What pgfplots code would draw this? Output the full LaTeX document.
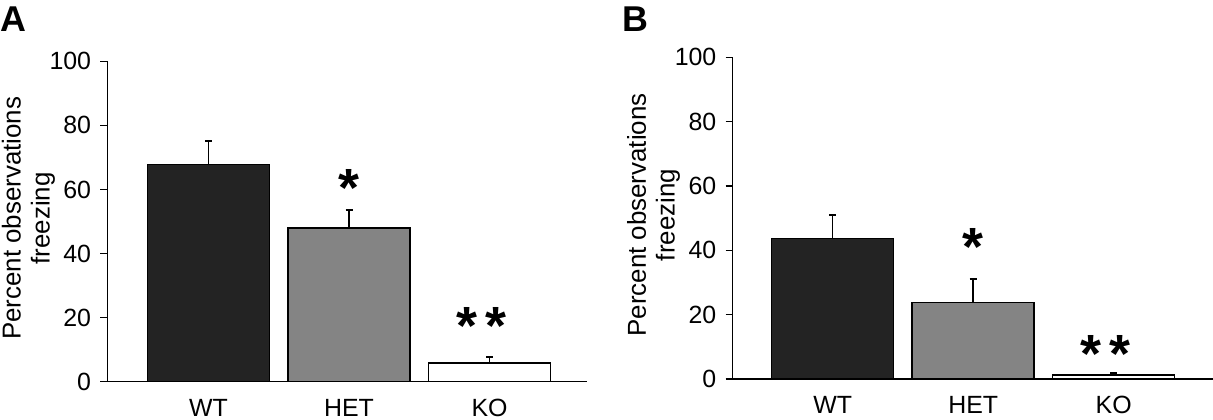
\documentclass[border=0pt]{standalone}
\usepackage{fontspec}
\setmainfont{Liberation Sans}
\usepackage{pgfplots}
\pgfplotsset{compat=1.18}
\definecolor{wtcol}{HTML}{232323}
\definecolor{hetcol}{HTML}{848484}
\pgfplotsset{
  panel/.style={
    scale only axis,
    anchor=south west,
    ymin=0, ymax=100,
    axis x line=bottom, axis y line=left,
    axis line style={line width=1.5bp, -},
    ytick={0,20,40,60,80,100},
    tick align=outside,
    major tick length=7bp,
    ytick style={line width=1.5bp, black},
    xtick={0,1,2}, xticklabels={WT,HET,KO},
    xtick style={draw=none},
    /pgf/number format/assume math mode=true,
    tick label style={font=\fontsize{25}{30}\selectfont},
    yticklabel style={inner sep=0pt, anchor=east, xshift=-9bp},
    xticklabel style={inner sep=0pt, anchor=north, yshift=-10bp},
    every axis y label/.style={at={(axis description cs:-0.22,0.51)}, rotate=90, anchor=north,
      inner sep=0pt, align=center, font=\fontsize{26}{29}\selectfont},
    ylabel={Percent observations\\freezing},
    clip=false,
  },
  bars/.style={ybar, bar width=122bp, bar shift=0pt, draw=black, line width=1.5bp,
    error bars/y dir=plus, error bars/y explicit,
    error bars/error mark=|,
    error bars/error bar style={line width=1.5bp, black},
    error bars/error mark options={line width=1.8bp, mark size=3.5bp, black}},
  stars/.style={draw=none, mark=none, nodes near coords, point meta=explicit symbolic,
    every node near coord/.style={anchor=base, yshift=-27bp, inner sep=0pt,
      font=\fontsize{54}{54}\selectfont\bfseries}},
}
\begin{document}
\begin{tikzpicture}
\path[use as bounding box] (0bp,0bp) rectangle (1213bp,420bp);
% Panel A
\begin{axis}[panel, at={(107.3bp,38.3bp)}, width=479.7bp, height=320.4bp,
  xmin=-0.7203, xmax=2.694]
\addplot[bars, fill=wtcol] coordinates {(0,67.8) +- (0,7.3)};
\addplot[bars, fill=hetcol] coordinates {(1,47.9) +- (0,5.8)};
\addplot[bars, fill=white] coordinates {(2,5.8) +- (0,1.9)};
\addplot[stars] coordinates {(1,63.2)[*] (1.943,19.9)[*\hspace{8bp}*]};
\end{axis}
% Panel B
\begin{axis}[panel, at={(732.5bp,41bp)}, width=480.5bp, height=321.7bp,
  xmin=-0.713, xmax=2.707]
\addplot[bars, fill=wtcol] coordinates {(0,43.6) +- (0,7.3)};
\addplot[bars, fill=hetcol] coordinates {(1,23.8) +- (0,7.4)};
\addplot[bars, fill=white] coordinates {(2,1.2) +- (0,0.6)};
\addplot[stars] coordinates {(1,43.7)[*] (1.942,10.35)[*\hspace{8bp}*]};
\end{axis}
\node[anchor=north west, inner sep=0pt, font=\fontsize{36}{36}\selectfont\bfseries] at (0bp,413bp) {A};
\node[anchor=north west, inner sep=0pt, font=\fontsize{36}{36}\selectfont\bfseries] at (622bp,413bp) {B};
\end{tikzpicture}
\end{document}
